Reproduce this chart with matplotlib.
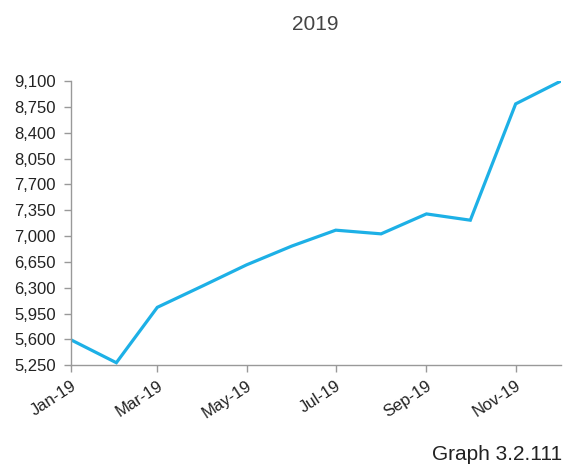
import matplotlib
matplotlib.use("Agg")
import matplotlib.pyplot as plt
import matplotlib.dates as mdates
import numpy as np
import datetime as dt

months = ["2019-01", "2019-02", "2019-03", "2019-04", "2019-05", "2019-06",
          "2019-07", "2019-08", "2019-09", "2019-10", "2019-11", "2019-12"]
values = [5595, 5285, 6035, 6325, 6610, 6865, 7080, 7030, 7300, 7215, 8790, 9090]
yticks = [5250, 5600, 5950, 6300, 6650, 7000, 7350, 7700, 8050, 8400, 8750, 9100]
title = "2019"
caption = "Graph 3.2.111"

plt.rcParams['font.family'] = ['Liberation Sans', 'DejaVu Sans']

dates = [dt.datetime.strptime(m, "%Y-%m") for m in months]

fig = plt.figure(figsize=(5.69, 4.66), dpi=100)
ax = fig.add_axes([71/569, 1-365.3/466, (561-71)/569, (365.3-81)/466])
ax.plot(dates, values, color="#1DB0E6", lw=2.3, solid_joinstyle="miter")

ax.set_ylim(5250, 9100)
ax.set_yticks(yticks)
ax.set_yticklabels([f"{v:,}" for v in yticks])
ax.set_xlim(dates[0], dates[-1] + dt.timedelta(days=1))
ax.xaxis.set_major_locator(mdates.MonthLocator(bymonth=[1, 3, 5, 7, 9, 11]))
ax.xaxis.set_major_formatter(mdates.DateFormatter("%b-%y"))
for lab in ax.get_xticklabels():
    lab.set_rotation(33)
    lab.set_ha("right")
    lab.set_rotation_mode("anchor")

for s in ["top", "right"]:
    ax.spines[s].set_visible(False)
for s in ["left", "bottom"]:
    ax.spines[s].set_color("#999999")
    ax.spines[s].set_linewidth(1.0)
ax.tick_params(axis="both", colors="#999999", labelcolor="#222222",
               labelsize=12, length=5, width=1.0)
ax.tick_params(axis="y", pad=6)
ax.tick_params(axis="x", pad=4)

fig.text(315/569, 1-25/466, title, ha="center", va="center", fontsize=15, color="#444444")
fig.text(562/569, 1-455/466, caption, ha="right", va="center", fontsize=15, color="#222222")

fig.savefig("out.png", dpi=100)
